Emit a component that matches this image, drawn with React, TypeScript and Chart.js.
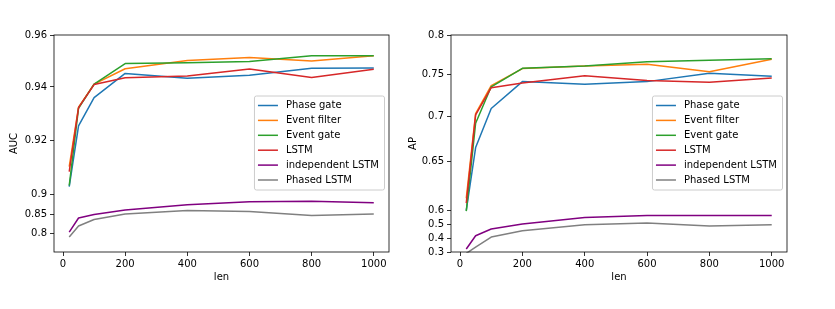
import React, { useEffect, useRef } from 'react';
import { Chart, registerables, LinearScale } from 'chart.js';

Chart.register(...registerables);

// ---------------- data ----------------
const lenValues = [20, 50, 100, 200, 400, 600, 800, 1000];
const xTickValues = [0, 200, 400, 600, 800, 1000];

const seriesLabels = ['Phase gate', 'Event filter', 'Event gate', 'LSTM', 'independent LSTM', 'Phased LSTM'];
const seriesColors = ['#1f77b4', '#ff7f0e', '#2ca02c', '#d62728', '#800080', '#808080'];

const aucPhaseGate = [0.903, 0.9254, 0.936, 0.9452, 0.9433, 0.9445, 0.9472, 0.9473];
const aucEventFilter = [0.9103, 0.9324, 0.9411, 0.947, 0.9502, 0.9513, 0.95, 0.952];
const aucEventGate = [0.9034, 0.932, 0.9411, 0.949, 0.9493, 0.9498, 0.952, 0.952];
const aucLSTM = [0.9085, 0.9322, 0.9409, 0.9435, 0.9442, 0.9469, 0.9436, 0.9468];
const aucIndependentLSTM = [0.8026, 0.8395, 0.849, 0.8604, 0.874, 0.882, 0.883, 0.879];
const aucPhasedLSTM = [0.7895, 0.8184, 0.8358, 0.85, 0.8593, 0.8567, 0.8463, 0.85];

const apPhaseGate = [0.597, 0.6652, 0.7095, 0.7413, 0.7382, 0.7413, 0.7513, 0.7476];
const apEventFilter = [0.612, 0.7035, 0.7365, 0.7572, 0.7606, 0.7627, 0.7533, 0.7691];
const apEventGate = [0.593, 0.6926, 0.7352, 0.7576, 0.7606, 0.766, 0.7678, 0.7698];
const apLSTM = [0.607, 0.702, 0.7342, 0.7398, 0.7482, 0.7425, 0.7406, 0.7456];
const apIndependentLSTM = [0.322, 0.419, 0.467, 0.503, 0.549, 0.562, 0.562, 0.562];
const apPhasedLSTM = [0.29, 0.335, 0.41, 0.455, 0.498, 0.51, 0.489, 0.498];

const aucTickValues = [0.8, 0.85, 0.9, 0.92, 0.94, 0.96];
const apTickValues = [0.3, 0.4, 0.5, 0.6, 0.65, 0.7, 0.75, 0.8];

// non-linear (broken) y axes: value -> fraction of axis height
const aucAxisValues = [0.75, 0.8, 0.85, 0.9, 0.92, 0.94, 0.96];
const aucAxisFractions = [0, 0.0874, 0.1749, 0.2637, 0.5154, 0.7607, 1];
const apAxisValues = [0.3, 0.4, 0.5, 0.6, 0.65, 0.7, 0.75, 0.8];
const apAxisFractions = [0, 0.0626, 0.127, 0.1933, 0.4188, 0.624, 0.8191, 1];

// ---------------- custom scale ----------------
function interp(xs: number[], ys: number[], v: number): number {
  const n = xs.length;
  let i = 0;
  if (v <= xs[0]) i = 0;
  else if (v >= xs[n - 1]) i = n - 2;
  else {
    while (v > xs[i + 1]) i++;
  }
  const t = (v - xs[i]) / (xs[i + 1] - xs[i]);
  return ys[i] + t * (ys[i + 1] - ys[i]);
}

function makeScale(scaleId: string, vals: number[], fracs: number[], tickVals: number[]) {
  class BrokenScale extends (LinearScale as any) {
    static id = scaleId;
    static defaults = {};
    determineDataLimits() {
      this.min = vals[0];
      this.max = vals[vals.length - 1];
    }
    buildTicks() {
      return tickVals.map((v) => ({ value: v }));
    }
    getPixelForValue(v: number) {
      if (v === null || v === undefined || isNaN(v)) return NaN;
      return this.getPixelForDecimal(interp(vals, fracs, v));
    }
    getValueForPixel(p: number) {
      return interp(fracs, vals, this.getDecimalForPixel(p));
    }
  }
  return BrokenScale;
}

Chart.register(
  makeScale('brokenAUC', aucAxisValues, aucAxisFractions, aucTickValues) as any,
  makeScale('brokenAP', apAxisValues, apAxisFractions, apTickValues) as any
);

// ---------------- plugin: frame + legend ----------------
const FONT = '"DejaVu Sans", sans-serif';

const frameLegend = {
  id: 'frameLegend',
  afterDatasetsDraw(chart: any) {
    const { ctx, chartArea: a } = chart;
    ctx.save();
    ctx.strokeStyle = '#000';
    ctx.lineWidth = 0.8;
    ctx.strokeRect(a.left, a.top, a.right - a.left, a.bottom - a.top);

    ctx.font = `10px ${FONT}`;
    const ds = chart.data.datasets;
    const maxW = Math.max(...ds.map((d: any) => ctx.measureText(d.label).width));
    const w = 32 + maxW + 5;
    const h = 94;
    const x = a.right - 5 - w;
    const y = (a.top + a.bottom) / 2 - h / 2 - 1;
    ctx.beginPath();
    ctx.roundRect(x + 0.5, y + 0.5, w, h, 2);
    ctx.fillStyle = 'rgba(255,255,255,0.8)';
    ctx.fill();
    ctx.strokeStyle = '#cccccc';
    ctx.lineWidth = 1;
    ctx.stroke();

    ds.forEach((d: any, i: number) => {
      const ry = y + 10 + 14.9 * i;
      ctx.beginPath();
      ctx.strokeStyle = d.borderColor;
      ctx.lineWidth = 1.5;
      ctx.moveTo(x + 4, ry);
      ctx.lineTo(x + 24, ry);
      ctx.stroke();
      ctx.fillStyle = '#000';
      ctx.textBaseline = 'middle';
      ctx.textAlign = 'left';
      ctx.fillText(d.label, x + 32, ry);
    });
    ctx.restore();
  },
};

// ---------------- panel ----------------
type PanelProps = {
  left: number;
  width: number;
  series: number[][];
  yType: string;
  yTitle: string;
  yWidth: number;
  yTitlePad: number;
  padRight: number;
};

function Panel({ left, width, series, yType, yTitle, yWidth, yTitlePad, padRight }: PanelProps) {
  const ref = useRef<HTMLCanvasElement | null>(null);
  useEffect(() => {
    if (!ref.current) return;
    const font = { family: FONT, size: 10 };
    const n = series.length;
    const chart = new Chart(ref.current, {
      type: 'line',
      data: {
        datasets: series.map((vals, i) => ({
          label: seriesLabels[i],
          data: lenValues.map((x, j) => ({ x, y: vals[j] })),
          borderColor: seriesColors[i],
          backgroundColor: seriesColors[i],
          borderWidth: 1.5,
          pointRadius: 0,
          tension: 0,
          fill: false,
          borderJoinStyle: 'round',
          order: n - 1 - i,
        })),
      },
      options: {
        animation: false,
        responsive: false,
        devicePixelRatio: 1,
        layout: { padding: { left: 0, right: padRight, top: 35, bottom: 0 } },
        plugins: { legend: { display: false }, tooltip: { enabled: false } },
        scales: {
          x: {
            type: 'linear',
            min: -29,
            max: 1049,
            bounds: 'data',
            afterBuildTicks: (s: any) => {
              s.ticks = xTickValues.map((v) => ({ value: v }));
            },
            afterFit: (s: any) => {
              s.height = 57;
            },
            ticks: { callback: (v: any) => String(v), autoSkip: false, maxRotation: 0, padding: 2, color: '#000', font },
            grid: { display: true, drawOnChartArea: false, drawTicks: true, tickLength: 4, color: '#000', lineWidth: 0.8 },
            border: { display: false },
            title: { display: true, text: 'len', color: '#000', font, padding: { top: 0, bottom: 26 } },
          },
          y: {
            type: yType as any,
            position: 'left',
            afterFit: (s: any) => {
              s.width = yWidth;
            },
            ticks: { callback: (v: any) => String(v), autoSkip: false, padding: 3, color: '#000', font },
            grid: { display: true, drawOnChartArea: false, drawTicks: true, tickLength: 4, color: '#000', lineWidth: 0.8 },
            border: { display: false },
            title: { display: true, text: yTitle, color: '#000', font, padding: { top: yTitlePad, bottom: 0 } },
          },
        },
      } as any,
      plugins: [frameLegend],
    });
    return () => chart.destroy();
  }, []);
  return (
    <canvas
      ref={ref}
      width={width}
      height={309}
      style={{ position: 'absolute', left, top: 0, width, height: 309 }}
    />
  );
}

export default function App() {
  return (
    <div style={{ position: 'absolute', left: 0, top: 0, width: 835, height: 309, background: '#fff' }}>
      <Panel
        left={0}
        width={400}
        series={[aucPhaseGate, aucEventFilter, aucEventGate, aucLSTM, aucIndependentLSTM, aucPhasedLSTM]}
        yType="brokenAUC"
        yTitle="AUC"
        yWidth={54}
        yTitlePad={8}
        padRight={11}
      />
      <Panel
        left={400}
        width={435}
        series={[apPhaseGate, apEventFilter, apEventGate, apLSTM, apIndependentLSTM, apPhasedLSTM]}
        yType="brokenAP"
        yTitle="AP"
        yWidth={51}
        yTitlePad={7.3}
        padRight={48}
      />
    </div>
  );
}
